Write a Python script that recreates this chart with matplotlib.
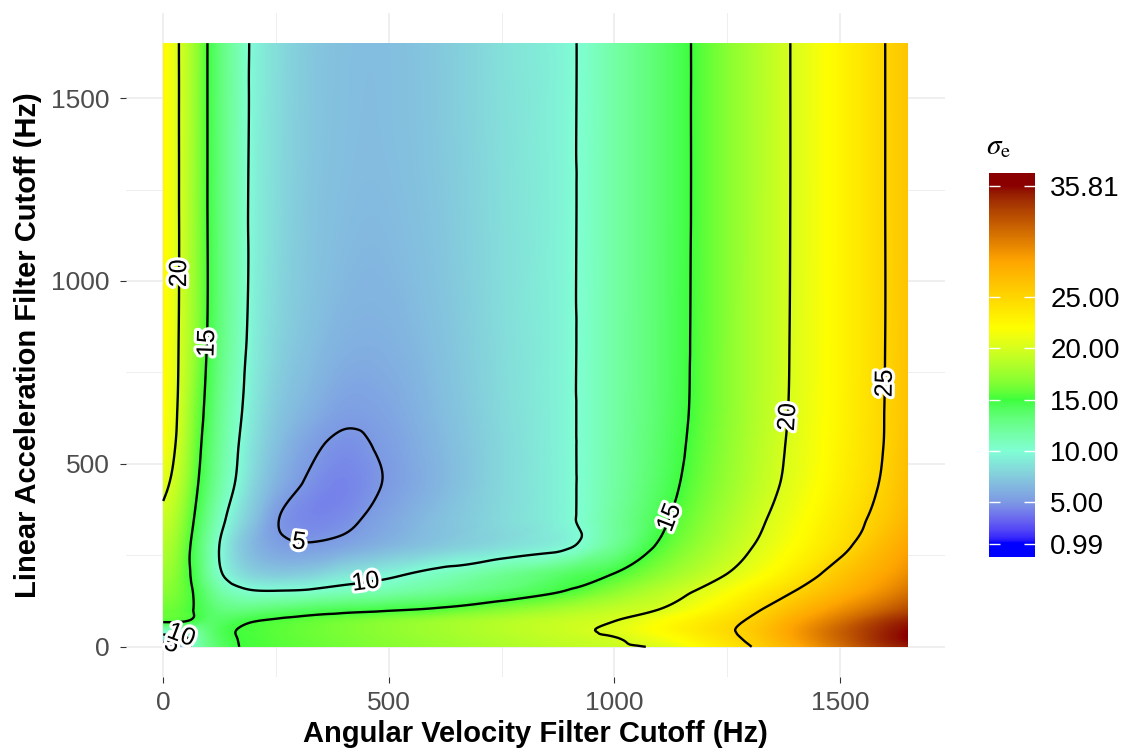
import numpy as np
import matplotlib
matplotlib.use("Agg")
import matplotlib.pyplot as plt
import matplotlib.tri as mtri
import matplotlib.patheffects as pe
from matplotlib.colors import ListedColormap, Normalize

plt.rcParams['font.family'] = ['Liberation Sans', 'DejaVu Sans']
plt.rcParams['mathtext.fontset'] = 'stix'

# ---------------- data ----------------
angular_cutoff = [0, 20, 45, 70, 100, 130, 165, 200, 250, 320, 400, 480, 600,
                  750, 900, 1000, 1100, 1200, 1300, 1400, 1500, 1600, 1650]
linear_cutoff = [0, 20, 45, 70, 100, 150, 200, 275, 350, 450, 550, 650, 850, 1250, 1650]

sigma_y0 = [0.99, 3.5, 8.0, 10.9, 12.8, 14.0, 14.95, 15.18, 15.45, 15.83, 16.27, 16.71, 17.36, 18.17, 18.99, 19.53, 20.32, 22.6, 24.89, 28.0, 31.2, 34.3, 35.2]
sigma_y20 = [8.0, 8.2, 9.0, 11.0, 13.0, 14.2, 15.0, 15.21, 15.5, 15.9, 16.36, 16.82, 17.5, 18.37, 19.23, 19.8, 21.29, 23.27, 25.4, 28.6, 31.8, 34.9, 35.81]
sigma_y45 = [11.2, 11.2, 11.5, 12.2, 13.4, 14.4, 15.05, 15.23, 15.54, 15.97, 16.47, 16.96, 17.7, 18.63, 19.55, 20.46, 22.15, 23.85, 25.7, 28.8, 31.9, 34.8, 35.7]
sigma_y70 = [15.3, 15.3, 15.1, 14.6, 13.8, 14.0, 14.5, 14.95, 15.28, 15.72, 16.23, 16.73, 17.48, 18.43, 19.37, 20.0, 21.74, 23.48, 25.3, 28.2, 31.0, 34.0, 35.0]
sigma_y100 = [16.0, 15.9, 15.5, 14.9, 13.9, 13.2, 13.0, 13.2, 13.6, 14.1, 14.5, 14.8, 15.37, 16.78, 18.18, 19.11, 20.11, 22.27, 24.44, 27.0, 29.5, 32.0, 33.2]
sigma_y150 = [16.9, 16.6, 15.8, 14.8, 13.1, 11.6, 10.7, 10.25, 10.2, 10.4, 11.0, 11.4, 12.3, 13.5, 15.26, 16.98, 18.69, 20.55, 22.82, 25.1, 27.4, 29.7, 31.0]
sigma_y200 = [17.6, 17.1, 15.8, 14.4, 12.0, 10.05, 8.6, 7.8, 7.4, 7.6, 8.6, 9.3, 10.6, 12.26, 13.92, 15.04, 17.0, 18.96, 21.1, 23.47, 26.1, 28.4, 29.6]
sigma_y275 = [18.5, 17.8, 16.2, 14.2, 11.9, 9.6, 7.7, 6.5, 5.5, 5.2, 5.6, 6.3, 7.3, 8.4, 9.8, 12.4, 15.3, 17.6, 19.84, 22.09, 24.33, 27.1, 28.4]
sigma_y350 = [19.4, 18.6, 16.9, 14.85, 12.6, 10.5, 8.6, 7.1, 5.15, 4.4, 4.6, 5.5, 6.8, 8.2, 9.74, 12.05, 14.5, 16.85, 19.15, 21.4, 23.66, 26.0, 27.4]
sigma_y450 = [20.6, 19.7, 17.9, 15.6, 13.5, 11.6, 9.7, 8.0, 6.3, 4.85, 4.3, 4.95, 6.3, 8.1, 9.73, 11.8, 14.0, 16.2, 18.45, 20.74, 23.05, 25.35, 26.8]
sigma_y550 = [21.7, 20.5, 18.5, 16.1, 13.9, 12.0, 10.1, 8.5, 6.9, 5.45, 4.7, 5.15, 6.4, 8.1, 9.74, 11.74, 13.8, 15.9, 18.2, 20.5, 22.8, 25.1, 26.6]
sigma_y650 = [22.0, 20.8, 18.9, 16.5, 14.3, 12.3, 10.5, 8.9, 7.4, 6.3, 5.4, 5.55, 6.6, 8.2, 9.75, 11.7, 13.68, 15.74, 18.04, 20.35, 22.7, 25.05, 26.4]
sigma_y850 = [22.3, 21.0, 19.2, 17.2, 14.8, 12.9, 11.1, 9.3, 8.0, 7.0, 6.3, 6.2, 6.9, 8.3, 9.75, 11.7, 13.64, 15.68, 17.98, 20.28, 22.65, 25.0, 26.3]
sigma_y1250 = [22.4, 21.0, 19.3, 17.3, 14.85, 13.0, 11.2, 9.5, 8.3, 7.3, 6.8, 6.7, 7.2, 8.4, 9.75, 11.69, 13.61, 15.64, 17.94, 20.24, 22.62, 25.0, 26.2]
sigma_y1650 = [22.5, 21.0, 19.3, 17.4, 14.85, 13.0, 11.3, 9.6, 8.4, 7.4, 6.9, 6.8, 7.3, 8.5, 9.75, 11.69, 13.61, 15.64, 17.94, 20.24, 22.62, 25.0, 26.2]

sigma_rows = [sigma_y0, sigma_y20, sigma_y45, sigma_y70, sigma_y100, sigma_y150,
              sigma_y200, sigma_y275, sigma_y350, sigma_y450, sigma_y550,
              sigma_y650, sigma_y850, sigma_y1250, sigma_y1650]

legend_breaks = [0.99, 5, 10, 15, 20, 25, 35.81]
legend_labels = ["0.99", "5.00", "10.00", "15.00", "20.00", "25.00", "35.81"]
contour_levels = [5, 10, 15, 20, 25]
axis_ticks = [0, 500, 1000, 1500]
axis_minor = [250, 750, 1250]

palette_colours = ['#0000FF', '#7D9AE4', '#7FFFD4', '#3CFF3C', '#FFFF00', '#FFA500', '#8B0000']
palette_values = [0.99, 5, 10, 15, 22, 28.5, 35.81]

# label anchor spots (data coords) for contour labels
label_spots = {20: [(38, 1021), (1385, 628)],
               15: [(97, 830), (1135, 347)],
               10: [(448, 183), (40, 33)],
               5: [(299, 270), (18, 4)],
               25: [(1596, 720)]}

# ---------------- colour map (interpolated in CIELAB like ggplot) ----------------
_M = np.array([[0.4124564, 0.3575761, 0.1804375],
               [0.2126729, 0.7151522, 0.0721750],
               [0.0193339, 0.1191920, 0.9503041]])
_W = np.array([0.95047, 1.0, 1.08883])


def srgb_to_lab(c):
    c = np.asarray(c, float)
    lin = np.where(c <= 0.04045, c / 12.92, ((c + 0.055) / 1.055) ** 2.4)
    xyz = lin @ _M.T
    t = xyz / _W
    d = 6 / 29
    f = np.where(t > d ** 3, np.cbrt(t), t / (3 * d ** 2) + 4 / 29)
    return np.stack([116 * f[..., 1] - 16,
                     500 * (f[..., 0] - f[..., 1]),
                     200 * (f[..., 1] - f[..., 2])], -1)


def lab_to_srgb(lab):
    d = 6 / 29
    fy = (lab[..., 0] + 16) / 116
    fx = fy + lab[..., 1] / 500
    fz = fy - lab[..., 2] / 200

    def finv(f):
        return np.where(f > d, f ** 3, 3 * d ** 2 * (f - 4 / 29))
    xyz = np.stack([finv(fx), finv(fy), finv(fz)], -1) * _W
    lin = np.clip(xyz @ np.linalg.inv(_M).T, 0, 1)
    c = np.where(lin <= 0.0031308, 12.92 * lin, 1.055 * lin ** (1 / 2.4) - 0.055)
    return np.clip(c, 0, 1)


hex2rgb = lambda h: [int(h[i:i + 2], 16) / 255 for i in (1, 3, 5)]
anchor_lab = srgb_to_lab(np.array([hex2rgb(h) for h in palette_colours]))
vmin, vmax = min(legend_breaks), max(legend_breaks)
grid_vals = np.linspace(vmin, vmax, 512)
lab = np.stack([np.interp(grid_vals, palette_values, anchor_lab[:, k]) for k in range(3)], -1)
cmap = ListedColormap(lab_to_srgb(lab))
norm = Normalize(vmin, vmax)

# ---------------- smooth surface via matplotlib's cubic tri interpolator ----------------
xx, yy = np.meshgrid(angular_cutoff, linear_cutoff)
zz = np.array(sigma_rows)
ny, nx = zz.shape
idx = np.arange(ny * nx).reshape(ny, nx)
a, b = idx[:-1, :-1].ravel(), idx[:-1, 1:].ravel()
c, d = idx[1:, 1:].ravel(), idx[1:, :-1].ravel()
triangles = np.vstack([np.column_stack([a, b, c]), np.column_stack([a, c, d])])
tri = mtri.Triangulation(xx.ravel(), yy.ravel(), triangles)
interp = mtri.CubicTriInterpolator(tri, zz.ravel(), kind='geom')
xf = np.linspace(min(angular_cutoff), max(angular_cutoff), 551)
yf = np.linspace(min(linear_cutoff), max(linear_cutoff), 551)
XF, YF = np.meshgrid(xf, yf)
ZF = np.clip(np.ma.filled(interp(XF, YF), np.nan), vmin, vmax)

# ---------------- figure ----------------
fig = plt.figure(figsize=(11.29, 7.54), dpi=100)
ax = fig.add_axes([126 / 1129, 77 / 754, 819 / 1129, 664 / 754])

ax.imshow(ZF, origin='lower', extent=(xf[0], xf[-1], yf[0], yf[-1]),
          cmap=cmap, norm=norm, interpolation='bilinear', aspect='auto', zorder=1)

for lev in contour_levels:
    cs = ax.contour(XF, YF, ZF, levels=[lev], colors='black',
                    linewidths=1.7, zorder=2)
    ax.clabel(cs, manual=label_spots[lev], inline=False,
              fontsize=18, fmt='%d', colors='black', zorder=4)
    for t in cs.labelTexts:
        r = t.get_rotation() % 360
        if 225 <= r <= 315:
            t.set_rotation(r - 180)
        t.set_path_effects([pe.withStroke(linewidth=4.5, foreground='white')])

ax.set_xlim(-82.5, 1732.5)
ax.set_ylim(-82.5, 1732.5)
ax.set_xticks(axis_ticks)
ax.set_yticks(axis_ticks)
ax.set_xticks(axis_minor, minor=True)
ax.set_yticks(axis_minor, minor=True)
ax.set_axisbelow(True)
ax.grid(which='major', color='#EBEBEB', linewidth=1.1, zorder=0)
ax.grid(which='minor', color='#EBEBEB', linewidth=0.6, zorder=0)
for s in ax.spines.values():
    s.set_visible(False)
ax.tick_params(which='major', length=4, width=0.8, color='#333333',
               labelsize=19, labelcolor='#4D4D4D')
ax.tick_params(axis='y', pad=8)
ax.tick_params(axis='x', pad=6)
ax.tick_params(which='minor', length=0)
ax.set_xlabel('Angular Velocity Filter Cutoff (Hz)', fontsize=21,
              fontweight='bold', color='black', labelpad=4)
ax.set_ylabel('Linear Acceleration Filter Cutoff (Hz)', fontsize=21,
              fontweight='bold', color='black', labelpad=6)

# ---------------- colour bar (legend) ----------------
cax = fig.add_axes([989 / 1129, 197 / 754, 46 / 1129, 384 / 754])
lo, hi = -0.32, 37.04
bar_vals = np.clip(np.linspace(lo, hi, 600), vmin, vmax)[:, None]
cax.imshow(bar_vals, origin='lower', extent=(0, 1, lo, hi), cmap=cmap, norm=norm,
           aspect='auto', interpolation='bilinear')
cax.set_xlim(0, 1)
cax.set_ylim(lo, hi)
cax.set_xticks([])
cax.set_yticks(legend_breaks)
cax.set_yticklabels(legend_labels)
cax.tick_params(axis='y', direction='in', left=True, right=True, labelleft=False,
                labelright=True, color='white', length=8, width=1.0,
                labelsize=20, labelcolor='black', pad=11)
for s in cax.spines.values():
    s.set_visible(False)
fig.text(986 / 1129, 1 - 146 / 754, r'$\sigma_{\mathrm{e}}$', fontsize=21,
         ha='left', va='center', color='black')

fig.savefig('out.png', dpi=100)
